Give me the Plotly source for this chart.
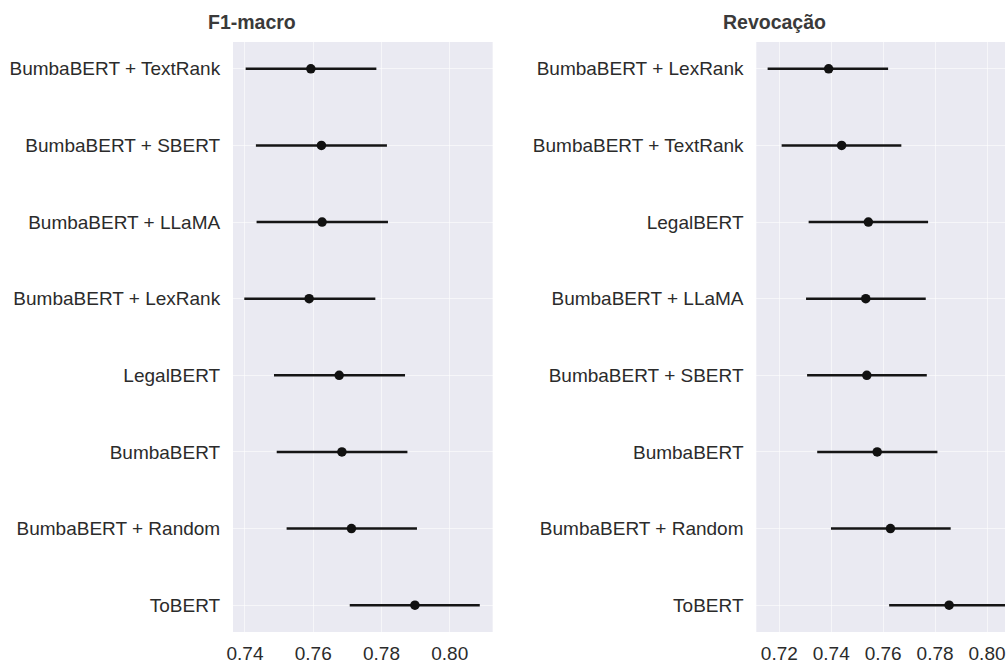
import plotly.graph_objects as go

# ---- data ----
f1_models = ["BumbaBERT + TextRank", "BumbaBERT + SBERT", "BumbaBERT + LLaMA",
             "BumbaBERT + LexRank", "LegalBERT", "BumbaBERT",
             "BumbaBERT + Random", "ToBERT"]
f1_mean = [0.7593, 0.7624, 0.7626, 0.7588, 0.7676, 0.7684, 0.7712, 0.7898]
f1_low = [0.7402, 0.7432, 0.7434, 0.7398, 0.7485, 0.7493, 0.7522, 0.7707]
f1_high = [0.7785, 0.7816, 0.7819, 0.7782, 0.7869, 0.7876, 0.7904, 0.8088]

rec_models = ["BumbaBERT + LexRank", "BumbaBERT + TextRank", "LegalBERT",
              "BumbaBERT + LLaMA", "BumbaBERT + SBERT", "BumbaBERT",
              "BumbaBERT + Random", "ToBERT"]
rec_mean = [0.7390, 0.7440, 0.7543, 0.7533, 0.7537, 0.7577, 0.7628, 0.7854]
rec_low = [0.7155, 0.7209, 0.7313, 0.7303, 0.7307, 0.7346, 0.7399, 0.7623]
rec_high = [0.7619, 0.7670, 0.7773, 0.7764, 0.7768, 0.7809, 0.7860, 0.8085]

f1_ticks = [0.74, 0.76, 0.78, 0.80]
rec_ticks = [0.72, 0.74, 0.76, 0.78, 0.80]

titles = ["F1-macro", "Revocação"]

# ---- figure ----
W, H = 1006, 664
ML, MR, MT, MB = 233, 0, 42, 24
pw = W - ML - MR
ph = H - MT - MB

def px_x(p):
    return (p - ML) / pw

fig = go.Figure()

def add_series(mean, low, high, models, xa, ya):
    fig.add_trace(go.Scatter(
        x=mean, y=models, mode="markers",
        marker=dict(color="#111111", size=9.5),
        error_x=dict(type="data", symmetric=False,
                     array=[h - m for h, m in zip(high, mean)],
                     arrayminus=[m - l for m, l in zip(mean, low)],
                     color="#151515", thickness=2.6, width=0),
        xaxis=xa, yaxis=ya, showlegend=False, hoverinfo="skip"))

add_series(f1_mean, f1_low, f1_high, f1_models, "x", "y")
add_series(rec_mean, rec_low, rec_high, rec_models, "x2", "y2")

tick_font = dict(family="Liberation Sans, Arial, sans-serif", size=19, color="#2b2b2b")

grid_col = "rgba(255,255,255,0.55)"
xcommon = dict(showgrid=True, gridcolor=grid_col, gridwidth=1, zeroline=False,
               showline=False, tickformat=".2f", tickfont=tick_font,
               ticks="outside", ticklen=4, tickcolor="rgba(0,0,0,0)",
               ticklabeloverflow="allow")
ycommon = dict(showgrid=True, gridcolor=grid_col, gridwidth=1, zeroline=False,
               showline=False, tickfont=tick_font, type="category",
               range=[7.35, -0.35],
               ticks="outside", ticklen=8, tickcolor="rgba(0,0,0,0)")

fig.update_layout(
    width=W, height=H,
    margin=dict(l=ML, r=MR, t=MT, b=MB),
    paper_bgcolor="white", plot_bgcolor="#EAEAF2",
    xaxis=dict(domain=[0, px_x(493)], range=[0.73649, 0.81258],
               tickvals=f1_ticks, anchor="y", **xcommon),
    yaxis=dict(domain=[0, 1], anchor="x", categoryorder="array",
               categoryarray=f1_models, **ycommon),
    xaxis2=dict(domain=[px_x(757), 1.0], range=[0.71115, 0.80692],
                tickvals=rec_ticks, anchor="y2", **xcommon),
    yaxis2=dict(domain=[0, 1], anchor="x2", categoryorder="array",
                categoryarray=rec_models, **ycommon),
)

title_font = dict(family="Liberation Sans, Arial, sans-serif", size=19.5, color="#3a3a3a")
for t, cx in zip(titles, [252, 775]):
    fig.add_annotation(text="<b>" + t + "</b>", xref="paper", yref="paper",
                       x=px_x(cx), y=1 + (MT - 22) / ph, xanchor="center",
                       yanchor="middle", showarrow=False, font=title_font)

fig.write_html("out.html")
